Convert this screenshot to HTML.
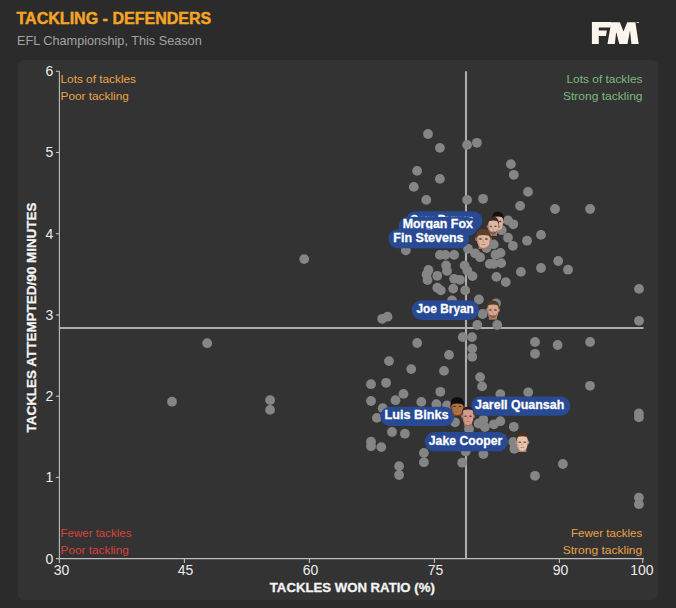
<!DOCTYPE html><html><head><meta charset="utf-8"><style>html,body{margin:0;padding:0;background:#2b2b2b;width:676px;height:608px;overflow:hidden}svg{display:block}text{font-family:"Liberation Sans",sans-serif}</style></head><body>
<svg width="676" height="608" viewBox="0 0 676 608">
<rect x="0" y="0" width="676" height="608" fill="#2b2b2b"/>
<text x="16.5" y="23.9" font-size="15.8" font-weight="bold" fill="#f5a425" stroke="#f5a425" stroke-width="0.45" textLength="194.8" lengthAdjust="spacingAndGlyphs">TACKLING - DEFENDERS</text>
<text x="17" y="44.6" font-size="13.2" fill="#a3a3a3" textLength="184.7" lengthAdjust="spacingAndGlyphs">EFL Championship, This Season</text>
<g fill="#fcf5ec">
<path d="M591.9,22.1 L611.4,22.1 L610.5,27.4 L598.8,27.4 L598.8,30.5 L606.8,30.5 L606.0,35.9 L598.8,35.9 L598.8,44.1 L591.9,44.1 Z"/>
<path d="M607.5,43.9 L611.2,22.2 L619.9,22.2 L623.5,31.5 L627.2,22.2 L635.4,22.2 L638.7,43.9 L631.4,43.9 L630.0,30.4 L627.5,43.9 L619.3,43.9 L616.2,32.1 L614.8,43.9 Z"/>
<rect x="636.5" y="22" width="2.5" height="0.8"/>
</g>
<rect x="18" y="60" width="640" height="540" rx="6" ry="6" fill="#333333"/>
<text x="60.5" y="83" font-size="11" fill="#e9a34a" text-anchor="start" textLength="75.5" lengthAdjust="spacingAndGlyphs">Lots of tackles</text>
<text x="60.5" y="99.8" font-size="11" fill="#e9a34a" text-anchor="start" textLength="68.3" lengthAdjust="spacingAndGlyphs">Poor tackling</text>
<text x="566.5" y="83" font-size="11" fill="#7dba7d" text-anchor="start" textLength="76" lengthAdjust="spacingAndGlyphs">Lots of tackles</text>
<text x="563" y="99.8" font-size="11" fill="#7dba7d" text-anchor="start" textLength="79.5" lengthAdjust="spacingAndGlyphs">Strong tackling</text>
<text x="60.5" y="537" font-size="11" fill="#d8423a" text-anchor="start" textLength="71" lengthAdjust="spacingAndGlyphs">Fewer tackles</text>
<text x="60.5" y="553.5" font-size="11" fill="#d8423a" text-anchor="start" textLength="68.3" lengthAdjust="spacingAndGlyphs">Poor tackling</text>
<text x="571" y="537" font-size="11" fill="#e9a34a" text-anchor="start" textLength="71.2" lengthAdjust="spacingAndGlyphs">Fewer tackles</text>
<text x="562.7" y="553.5" font-size="11" fill="#e9a34a" text-anchor="start" textLength="79.5" lengthAdjust="spacingAndGlyphs">Strong tackling</text>
<line x1="466.0" y1="71.3" x2="466.0" y2="558.6" stroke="#acacac" stroke-width="2.1"/>
<line x1="59.4" y1="328.0" x2="643.6" y2="328.0" stroke="#acacac" stroke-width="2.1"/>
<g stroke="#bdbdbd" stroke-width="1.1" fill="none">
<line x1="59.4" y1="71.3" x2="59.4" y2="562.9"/>
<line x1="55.9" y1="558.6" x2="644.0" y2="558.6"/>
<line x1="55.9" y1="477.4" x2="59.4" y2="477.4"/>
<line x1="55.9" y1="396.2" x2="59.4" y2="396.2"/>
<line x1="55.9" y1="315.0" x2="59.4" y2="315.0"/>
<line x1="55.9" y1="233.7" x2="59.4" y2="233.7"/>
<line x1="55.9" y1="152.5" x2="59.4" y2="152.5"/>
<line x1="55.9" y1="71.3" x2="59.4" y2="71.3"/>
<line x1="184.4" y1="558.6" x2="184.4" y2="562.9"/>
<line x1="309.4" y1="558.6" x2="309.4" y2="562.9"/>
<line x1="434.4" y1="558.6" x2="434.4" y2="562.9"/>
<line x1="559.4" y1="558.6" x2="559.4" y2="562.9"/>
<line x1="642.7" y1="558.6" x2="642.7" y2="562.9"/>
</g>
<g font-size="14" fill="#ececec">
<text x="53.3" y="563.5" text-anchor="end">0</text>
<text x="53.3" y="482.3" text-anchor="end">1</text>
<text x="53.3" y="401.1" text-anchor="end">2</text>
<text x="53.3" y="319.9" text-anchor="end">3</text>
<text x="53.3" y="238.6" text-anchor="end">4</text>
<text x="53.3" y="157.4" text-anchor="end">5</text>
<text x="53.3" y="76.2" text-anchor="end">6</text>
<text x="61.5" y="574.9" text-anchor="middle">30</text>
<text x="185.6" y="574.9" text-anchor="middle">45</text>
<text x="310.6" y="574.9" text-anchor="middle">60</text>
<text x="435.6" y="574.9" text-anchor="middle">75</text>
<text x="560.6" y="574.9" text-anchor="middle">90</text>
<text x="641.9" y="574.9" text-anchor="middle">100</text>
</g>
<text x="352.3" y="592.1" font-size="13.3" font-weight="bold" fill="#f4f4f4" stroke="#f4f4f4" stroke-width="0.3" text-anchor="middle" textLength="165" lengthAdjust="spacingAndGlyphs">TACKLES WON RATIO (%)</text>
<text transform="translate(35.6,317.5) rotate(-90)" x="0" y="0" font-size="13.5" font-weight="bold" fill="#f4f4f4" stroke="#f4f4f4" stroke-width="0.3" text-anchor="middle" textLength="230" lengthAdjust="spacingAndGlyphs">TACKLES ATTEMPTED/90 MINUTES</text>
<g fill="#858585">
<circle cx="428.0" cy="134.0" r="4.9"/>
<circle cx="439.9" cy="147.9" r="4.9"/>
<circle cx="467.1" cy="144.9" r="4.9"/>
<circle cx="476.9" cy="142.8" r="4.9"/>
<circle cx="510.9" cy="164.1" r="4.9"/>
<circle cx="513.8" cy="174.8" r="4.9"/>
<circle cx="417.1" cy="170.9" r="4.9"/>
<circle cx="439.9" cy="178.9" r="4.9"/>
<circle cx="413.8" cy="186.9" r="4.9"/>
<circle cx="426.3" cy="199.9" r="4.9"/>
<circle cx="467.1" cy="199.9" r="4.9"/>
<circle cx="483.1" cy="198.8" r="4.9"/>
<circle cx="528.0" cy="191.9" r="4.9"/>
<circle cx="520.1" cy="205.9" r="4.9"/>
<circle cx="555.0" cy="209.0" r="4.9"/>
<circle cx="590.1" cy="209.0" r="4.9"/>
<circle cx="541.0" cy="234.9" r="4.9"/>
<circle cx="527.0" cy="240.7" r="4.9"/>
<circle cx="508.0" cy="220.4" r="4.9"/>
<circle cx="513.3" cy="224.3" r="4.9"/>
<circle cx="501.7" cy="230.2" r="4.9"/>
<circle cx="508.0" cy="237.7" r="4.9"/>
<circle cx="512.9" cy="245.8" r="4.9"/>
<circle cx="486.6" cy="248.0" r="4.9"/>
<circle cx="493.7" cy="244.4" r="4.9"/>
<circle cx="468.0" cy="248.8" r="4.9"/>
<circle cx="475.1" cy="253.3" r="4.9"/>
<circle cx="480.1" cy="257.2" r="4.9"/>
<circle cx="495.5" cy="254.7" r="4.9"/>
<circle cx="500.5" cy="252.9" r="4.9"/>
<circle cx="489.8" cy="263.9" r="4.9"/>
<circle cx="493.7" cy="263.9" r="4.9"/>
<circle cx="501.2" cy="263.1" r="4.9"/>
<circle cx="464.6" cy="265.6" r="4.9"/>
<circle cx="467.3" cy="270.5" r="4.9"/>
<circle cx="472.5" cy="276.1" r="4.9"/>
<circle cx="460.0" cy="279.8" r="4.9"/>
<circle cx="496.4" cy="276.9" r="4.9"/>
<circle cx="505.8" cy="282.1" r="4.9"/>
<circle cx="520.9" cy="271.9" r="4.9"/>
<circle cx="541.0" cy="268.0" r="4.9"/>
<circle cx="558.2" cy="261.0" r="4.9"/>
<circle cx="568.0" cy="269.7" r="4.9"/>
<circle cx="465.2" cy="290.4" r="4.9"/>
<circle cx="478.9" cy="299.5" r="4.9"/>
<circle cx="496.0" cy="303.3" r="4.9"/>
<circle cx="405.8" cy="250.4" r="4.9"/>
<circle cx="439.9" cy="254.9" r="4.9"/>
<circle cx="445.3" cy="254.9" r="4.9"/>
<circle cx="454.1" cy="254.9" r="4.9"/>
<circle cx="428.4" cy="270.0" r="4.9"/>
<circle cx="426.6" cy="274.4" r="4.9"/>
<circle cx="427.5" cy="280.1" r="4.9"/>
<circle cx="437.3" cy="275.8" r="4.9"/>
<circle cx="446.1" cy="265.5" r="4.9"/>
<circle cx="447.0" cy="270.9" r="4.9"/>
<circle cx="454.1" cy="278.8" r="4.9"/>
<circle cx="437.3" cy="287.7" r="4.9"/>
<circle cx="440.8" cy="290.4" r="4.9"/>
<circle cx="453.2" cy="288.6" r="4.9"/>
<circle cx="452.0" cy="300.5" r="4.9"/>
<circle cx="382.2" cy="318.8" r="4.9"/>
<circle cx="387.5" cy="316.7" r="4.9"/>
<circle cx="482.6" cy="314.0" r="4.9"/>
<circle cx="477.3" cy="325.0" r="4.9"/>
<circle cx="497.2" cy="325.0" r="4.9"/>
<circle cx="462.7" cy="337.1" r="4.9"/>
<circle cx="472.0" cy="337.1" r="4.9"/>
<circle cx="472.2" cy="348.6" r="4.9"/>
<circle cx="472.2" cy="356.8" r="4.9"/>
<circle cx="449.0" cy="354.9" r="4.9"/>
<circle cx="444.0" cy="370.9" r="4.9"/>
<circle cx="480.1" cy="377.1" r="4.9"/>
<circle cx="482.1" cy="386.4" r="4.9"/>
<circle cx="535.0" cy="342.0" r="4.9"/>
<circle cx="535.0" cy="353.8" r="4.9"/>
<circle cx="557.6" cy="345.0" r="4.9"/>
<circle cx="590.1" cy="342.0" r="4.9"/>
<circle cx="639.0" cy="288.9" r="4.9"/>
<circle cx="639.0" cy="320.8" r="4.9"/>
<circle cx="590.0" cy="385.8" r="4.9"/>
<circle cx="528.2" cy="392.3" r="4.9"/>
<circle cx="500.3" cy="394.1" r="4.9"/>
<circle cx="638.9" cy="413.4" r="4.9"/>
<circle cx="638.9" cy="417.4" r="4.9"/>
<circle cx="513.8" cy="426.8" r="4.9"/>
<circle cx="513.3" cy="442.0" r="4.9"/>
<circle cx="514.3" cy="448.8" r="4.9"/>
<circle cx="562.9" cy="464.0" r="4.9"/>
<circle cx="535.0" cy="475.8" r="4.9"/>
<circle cx="638.9" cy="497.6" r="4.9"/>
<circle cx="638.9" cy="504.2" r="4.9"/>
<circle cx="417.2" cy="343.0" r="4.9"/>
<circle cx="389.0" cy="361.1" r="4.9"/>
<circle cx="411.2" cy="369.1" r="4.9"/>
<circle cx="386.1" cy="382.8" r="4.9"/>
<circle cx="371.0" cy="384.2" r="4.9"/>
<circle cx="403.5" cy="393.9" r="4.9"/>
<circle cx="395.5" cy="400.2" r="4.9"/>
<circle cx="371.0" cy="401.0" r="4.9"/>
<circle cx="440.3" cy="391.8" r="4.9"/>
<circle cx="421.3" cy="401.9" r="4.9"/>
<circle cx="436.4" cy="404.2" r="4.9"/>
<circle cx="447.0" cy="405.5" r="4.9"/>
<circle cx="382.7" cy="408.2" r="4.9"/>
<circle cx="376.9" cy="417.9" r="4.9"/>
<circle cx="455.0" cy="422.3" r="4.9"/>
<circle cx="478.5" cy="423.5" r="4.9"/>
<circle cx="392.0" cy="432.0" r="4.9"/>
<circle cx="404.9" cy="433.7" r="4.9"/>
<circle cx="371.0" cy="441.7" r="4.9"/>
<circle cx="371.0" cy="446.2" r="4.9"/>
<circle cx="381.3" cy="447.1" r="4.9"/>
<circle cx="423.9" cy="452.9" r="4.9"/>
<circle cx="423.9" cy="462.2" r="4.9"/>
<circle cx="399.1" cy="466.1" r="4.9"/>
<circle cx="399.1" cy="475.0" r="4.9"/>
<circle cx="462.2" cy="462.7" r="4.9"/>
<circle cx="465.7" cy="451.5" r="4.9"/>
<circle cx="483.4" cy="419.7" r="4.9"/>
<circle cx="484.9" cy="427.0" r="4.9"/>
<circle cx="493.9" cy="424.3" r="4.9"/>
<circle cx="500.3" cy="421.2" r="4.9"/>
<circle cx="469.0" cy="429.0" r="4.9"/>
<circle cx="483.4" cy="454.1" r="4.9"/>
<circle cx="304.2" cy="259.1" r="4.9"/>
<circle cx="207.2" cy="343.2" r="4.9"/>
<circle cx="399.0" cy="421.0" r="4.9"/>
<circle cx="172.0" cy="401.7" r="4.9"/>
<circle cx="270.1" cy="400.1" r="4.9"/>
<circle cx="270.1" cy="409.9" r="4.9"/>
</g>
<rect x="405.7" y="211.2" width="76.8" height="19" rx="9.5" ry="9.5" fill="#284a95"/>
<text x="410.5" y="223.8" font-size="13.6" font-weight="bold" fill="#ffffff" stroke="#ffffff" stroke-width="0.3" textLength="63" lengthAdjust="spacingAndGlyphs">Sam Byram</text>
<g><path d="M493.97,225.50 L501.53,225.50 L501.80,231.50 L493.70,231.50 Z" fill="#a8806a"/><ellipse cx="491.94" cy="221.50" rx="1.08" ry="2.00" fill="#a8806a"/><ellipse cx="503.56" cy="221.50" rx="1.08" ry="2.00" fill="#a8806a"/><path d="M492.35,217.50 Q492.08,225.50 493.97,228.50 Q495.73,230.50 497.75,230.50 Q499.77,230.50 501.53,228.50 Q503.42,225.50 503.15,217.50 Q502.88,213.10 497.75,213.10 Q492.62,213.10 492.35,217.50 Z" fill="#d8b29a"/><path d="M492.35,217.50 Q492.08,225.50 493.97,228.50 L495.05,229.50 Q493.43,223.50 493.70,217.50 Z" fill="#a8806a" opacity="0.45"/><ellipse cx="495.32" cy="221.50" rx="1.35" ry="0.70" fill="#35251d" opacity="0.85"/><ellipse cx="500.18" cy="221.50" rx="1.35" ry="0.70" fill="#35251d" opacity="0.85"/><path d="M497.21,221.90 L496.94,224.70 L498.56,225.10 Z" fill="#7a4a3a" opacity="0.35"/><rect x="495.86" y="226.50" width="3.78" height="0.70" fill="#8a4a40" opacity="0.6"/><path d="M491.81,221.50 Q490.73,211.90 497.75,211.50 Q504.77,211.90 503.69,221.50 Q503.15,218.20 501.80,217.00 Q497.75,216.00 493.70,217.00 Q492.35,218.20 491.81,221.50 Z" fill="#15100d"/></g>
<rect x="398.6" y="217.0" width="78.9" height="19" rx="9.5" ry="9.5" fill="#284a95"/>
<text x="402.7" y="228.4" font-size="13.6" font-weight="bold" fill="#ffffff" stroke="#ffffff" stroke-width="0.3" textLength="70.2" lengthAdjust="spacingAndGlyphs">Morgan Fox</text>
<g><path d="M489.62,230.25 L496.78,230.25 L497.04,236.10 L489.36,236.10 Z" fill="#9a7262"/><ellipse cx="487.70" cy="226.35" rx="1.02" ry="1.95" fill="#9a7262"/><ellipse cx="498.70" cy="226.35" rx="1.02" ry="1.95" fill="#9a7262"/><path d="M488.08,222.45 Q487.82,230.25 489.62,233.17 Q491.28,235.12 493.20,235.12 Q495.12,235.12 496.78,233.17 Q498.58,230.25 498.32,222.45 Q498.06,218.16 493.20,218.16 Q488.34,218.16 488.08,222.45 Z" fill="#dcb6a2"/><path d="M488.08,222.45 Q487.82,230.25 489.62,233.17 L490.64,234.15 Q489.10,228.30 489.36,222.45 Z" fill="#9a7262" opacity="0.45"/><path d="M488.59,227.91 Q489.36,234.54 493.20,234.93 Q497.04,234.54 497.81,227.91 Q497.04,232.20 493.20,232.20 Q489.36,232.20 488.59,227.91 Z" fill="#5a3a2a" opacity="0.75"/><ellipse cx="490.90" cy="226.35" rx="1.28" ry="0.68" fill="#35251d" opacity="0.85"/><ellipse cx="495.50" cy="226.35" rx="1.28" ry="0.68" fill="#35251d" opacity="0.85"/><path d="M492.69,226.74 L492.43,229.47 L493.97,229.86 Z" fill="#7a4a3a" opacity="0.35"/><rect x="491.41" y="231.22" width="3.58" height="0.68" fill="#8a4a40" opacity="0.6"/><path d="M487.57,226.35 Q486.54,216.99 493.20,216.60 Q499.86,216.99 498.83,226.35 Q498.32,222.27 497.04,221.10 Q493.20,220.12 489.36,221.10 Q488.08,222.27 487.57,226.35 Z" fill="#3e2a1e"/></g>
<rect x="388.3" y="229.3" width="80.9" height="19" rx="9.5" ry="9.5" fill="#284a95"/>
<text x="393.3" y="241.9" font-size="13.6" font-weight="bold" fill="#ffffff" stroke="#ffffff" stroke-width="0.3" textLength="70.3" lengthAdjust="spacingAndGlyphs">Fin Stevens</text>
<g><path d="M478.89,243.04 L488.01,243.04 L488.34,249.10 L478.56,249.10 Z" fill="#a87a62"/><ellipse cx="476.44" cy="239.00" rx="1.30" ry="2.02" fill="#a87a62"/><ellipse cx="490.46" cy="239.00" rx="1.30" ry="2.02" fill="#a87a62"/><path d="M476.93,234.96 Q476.60,243.04 478.89,246.07 Q481.00,248.09 483.45,248.09 Q485.90,248.09 488.01,246.07 Q490.30,243.04 489.97,234.96 Q489.64,230.52 483.45,230.52 Q477.26,230.52 476.93,234.96 Z" fill="#dfb49c"/><path d="M476.93,234.96 Q476.60,243.04 478.89,246.07 L480.19,247.08 Q478.23,241.02 478.56,234.96 Z" fill="#a87a62" opacity="0.45"/><ellipse cx="480.52" cy="239.00" rx="1.63" ry="0.71" fill="#35251d" opacity="0.85"/><ellipse cx="486.38" cy="239.00" rx="1.63" ry="0.71" fill="#35251d" opacity="0.85"/><path d="M482.80,239.40 L482.47,242.23 L484.43,242.64 Z" fill="#7a4a3a" opacity="0.35"/><rect x="481.17" y="244.05" width="4.56" height="0.71" fill="#8a4a40" opacity="0.6"/><path d="M476.28,239.00 Q474.97,229.30 483.45,228.90 Q491.93,229.30 490.62,239.00 Q489.97,236.61 488.34,235.40 Q483.45,234.39 478.56,235.40 Q476.93,236.61 476.28,239.00 Z" fill="#5e402a"/></g>
<rect x="411.7" y="300.2" width="67.3" height="19.7" rx="9.85" ry="9.85" fill="#284a95"/>
<text x="416.5" y="312.8" font-size="13.6" font-weight="bold" fill="#ffffff" stroke="#ffffff" stroke-width="0.3" textLength="57.3" lengthAdjust="spacingAndGlyphs">Joe Bryan</text>
<g><path d="M489.00,313.91 L496.90,313.91 L497.18,319.70 L488.72,319.70 Z" fill="#a07060"/><ellipse cx="486.89" cy="310.05" rx="1.13" ry="1.93" fill="#a07060"/><ellipse cx="499.01" cy="310.05" rx="1.13" ry="1.93" fill="#a07060"/><path d="M487.31,306.19 Q487.03,313.91 489.00,316.80 Q490.83,318.73 492.95,318.73 Q495.06,318.73 496.90,316.80 Q498.87,313.91 498.59,306.19 Q498.31,301.94 492.95,301.94 Q487.59,301.94 487.31,306.19 Z" fill="#d8a88e"/><path d="M487.31,306.19 Q487.03,313.91 489.00,316.80 L490.13,317.77 Q488.44,311.98 488.72,306.19 Z" fill="#a07060" opacity="0.45"/><path d="M487.87,311.59 Q488.72,318.16 492.95,318.54 Q497.18,318.16 498.03,311.59 Q497.18,315.84 492.95,315.84 Q488.72,315.84 487.87,311.59 Z" fill="#6a4a38" opacity="0.75"/><ellipse cx="490.41" cy="310.05" rx="1.41" ry="0.68" fill="#35251d" opacity="0.85"/><ellipse cx="495.49" cy="310.05" rx="1.41" ry="0.68" fill="#35251d" opacity="0.85"/><path d="M492.39,310.44 L492.10,313.14 L493.80,313.52 Z" fill="#7a4a3a" opacity="0.35"/><rect x="490.98" y="314.88" width="3.95" height="0.68" fill="#8a4a40" opacity="0.6"/><path d="M486.75,310.05 Q485.62,300.79 492.95,300.40 Q500.28,300.79 499.15,310.05 Q498.59,306.06 497.18,304.90 Q492.95,303.94 488.72,304.90 Q487.31,306.06 486.75,310.05 Z" fill="#4a3c28"/></g>
<rect x="424.7" y="432.0" width="83.3" height="19.2" rx="9.6" ry="9.6" fill="#284a95"/>
<text x="428.8" y="444.6" font-size="13.6" font-weight="bold" fill="#ffffff" stroke="#ffffff" stroke-width="0.3" textLength="73.4" lengthAdjust="spacingAndGlyphs">Jake Cooper</text>
<g><path d="M518.44,446.13 L526.16,446.13 L526.44,452.10 L518.16,452.10 Z" fill="#b08878"/><ellipse cx="516.37" cy="442.15" rx="1.10" ry="1.99" fill="#b08878"/><ellipse cx="528.23" cy="442.15" rx="1.10" ry="1.99" fill="#b08878"/><path d="M516.78,438.17 Q516.50,446.13 518.44,449.12 Q520.23,451.10 522.30,451.10 Q524.37,451.10 526.16,449.12 Q528.10,446.13 527.82,438.17 Q527.54,433.79 522.30,433.79 Q517.06,433.79 516.78,438.17 Z" fill="#eac4ae"/><path d="M516.78,438.17 Q516.50,446.13 518.44,449.12 L519.54,450.11 Q517.88,444.14 518.16,438.17 Z" fill="#b08878" opacity="0.45"/><ellipse cx="519.82" cy="442.15" rx="1.38" ry="0.70" fill="#35251d" opacity="0.85"/><ellipse cx="524.78" cy="442.15" rx="1.38" ry="0.70" fill="#35251d" opacity="0.85"/><path d="M521.75,442.55 L521.47,445.33 L523.13,445.73 Z" fill="#7a4a3a" opacity="0.35"/><rect x="520.37" y="447.12" width="3.86" height="0.70" fill="#8a4a40" opacity="0.6"/><path d="M516.23,442.15 Q515.12,432.60 522.30,432.20 Q529.48,432.60 528.37,442.15 Q527.82,437.89 526.44,436.70 Q522.30,435.70 518.16,436.70 Q516.78,437.89 516.23,442.15 Z" fill="#48301f"/></g>
<rect x="471.2" y="396.5" width="99.1" height="19.2" rx="9.6" ry="9.6" fill="#284a95"/>
<text x="475.0" y="409.1" font-size="13.6" font-weight="bold" fill="#ffffff" stroke="#ffffff" stroke-width="0.3" textLength="89.3" lengthAdjust="spacingAndGlyphs">Jarell Quansah</text>
<rect x="380.3" y="406.8" width="74.0" height="19.2" rx="9.6" ry="9.6" fill="#284a95"/>
<text x="384.5" y="419.4" font-size="13.6" font-weight="bold" fill="#ffffff" stroke="#ffffff" stroke-width="0.3" textLength="64" lengthAdjust="spacingAndGlyphs">Luis Binks</text>
<g><path d="M453.16,410.27 L461.44,410.27 L461.74,416.00 L452.86,416.00 Z" fill="#6e4229"/><ellipse cx="450.94" cy="406.45" rx="1.18" ry="1.91" fill="#6e4229"/><ellipse cx="463.66" cy="406.45" rx="1.18" ry="1.91" fill="#6e4229"/><path d="M451.38,402.63 Q451.08,410.27 453.16,413.13 Q455.08,415.04 457.30,415.04 Q459.52,415.04 461.44,413.13 Q463.52,410.27 463.22,402.63 Q462.92,398.43 457.30,398.43 Q451.68,398.43 451.38,402.63 Z" fill="#b07444"/><path d="M451.38,402.63 Q451.08,410.27 453.16,413.13 L454.34,414.09 Q452.56,408.36 452.86,402.63 Z" fill="#6e4229" opacity="0.45"/><ellipse cx="454.64" cy="406.45" rx="1.48" ry="0.67" fill="#35251d" opacity="0.85"/><ellipse cx="459.96" cy="406.45" rx="1.48" ry="0.67" fill="#35251d" opacity="0.85"/><path d="M456.71,406.83 L456.41,409.51 L458.19,409.89 Z" fill="#7a4a3a" opacity="0.35"/><rect x="455.23" y="411.22" width="4.14" height="0.67" fill="#8a4a40" opacity="0.6"/><path d="M450.79,406.45 Q449.60,397.28 457.30,396.90 Q465.00,397.28 463.81,406.45 Q463.22,405.05 461.74,403.90 Q457.30,402.94 452.86,403.90 Q451.38,405.05 450.79,406.45 Z" fill="#120d0a"/></g>
<g><path d="M464.14,420.05 L471.86,420.05 L472.14,425.90 L463.86,425.90 Z" fill="#a06a5a"/><ellipse cx="462.07" cy="416.15" rx="1.10" ry="1.95" fill="#a06a5a"/><ellipse cx="473.93" cy="416.15" rx="1.10" ry="1.95" fill="#a06a5a"/><path d="M462.48,412.25 Q462.20,420.05 464.14,422.97 Q465.93,424.92 468.00,424.92 Q470.07,424.92 471.86,422.97 Q473.80,420.05 473.52,412.25 Q473.24,407.96 468.00,407.96 Q462.76,407.96 462.48,412.25 Z" fill="#d69a8a"/><path d="M462.48,412.25 Q462.20,420.05 464.14,422.97 L465.24,423.95 Q463.58,418.10 463.86,412.25 Z" fill="#a06a5a" opacity="0.45"/><ellipse cx="465.52" cy="416.15" rx="1.38" ry="0.68" fill="#35251d" opacity="0.85"/><ellipse cx="470.48" cy="416.15" rx="1.38" ry="0.68" fill="#35251d" opacity="0.85"/><path d="M467.45,416.54 L467.17,419.27 L468.83,419.66 Z" fill="#7a4a3a" opacity="0.35"/><rect x="466.07" y="421.02" width="3.86" height="0.68" fill="#8a4a40" opacity="0.6"/><path d="M461.93,416.15 Q460.82,406.79 468.00,406.40 Q475.18,406.79 474.07,416.15 Q473.52,411.07 472.14,409.90 Q468.00,408.92 463.86,409.90 Q462.48,411.07 461.93,416.15 Z" fill="#2a2220"/></g>
</svg></body></html>
